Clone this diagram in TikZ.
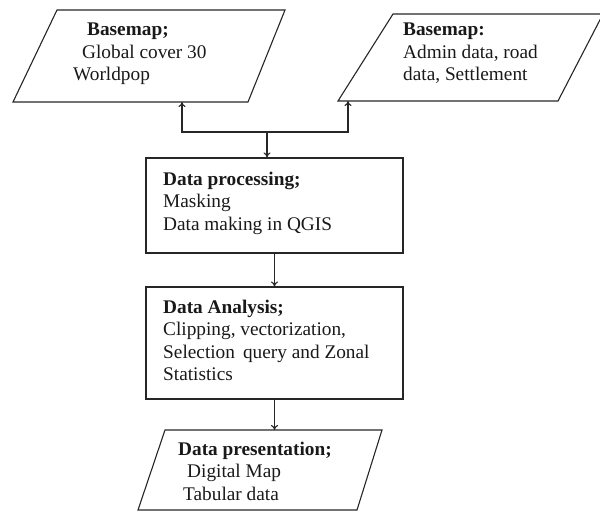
\documentclass[tikz,border=0pt]{standalone}
\usepackage{fontspec}
\setmainfont{Liberation Serif}
\usetikzlibrary{arrows.meta}
\begin{document}
\begin{tikzpicture}[x=1pt,y=-1pt,
  shapeline/.style={draw=black!85, line width=1.1pt, line join=miter},
  procbox/.style={shapeline, rectangle, inner sep=0pt},
  label/.style={anchor=north west, inner sep=0pt, align=left,
    font=\fontsize{19.3}{22.3}\selectfont, text=black!90},
  flow/.style={draw=black!85, line width=1.1pt, -{To[length=5pt,width=7pt]}}]
\useasboundingbox (0,0) rectangle (600,513);

% input parallelograms
\draw[shapeline] (57,10) -- (285,10) -- (248,102) -- (13,102) -- cycle;
\draw[shapeline] (393,14) -- (603,14) -- (558,101) -- (338,101) -- cycle;
% output parallelogram
\draw[shapeline] (165,430) -- (382,430) -- (357,510) -- (138,510) -- cycle;

% process boxes
\node[procbox, minimum width=257pt, minimum height=95pt] (proc) at (274.5,205.5) {};
\node[procbox, minimum width=257pt, minimum height=112pt] (anal) at (274.5,343) {};

% texts
\node[label] (base1) at (73,23) {\hspace*{14pt}\textbf{Basemap;}\\\hspace*{9pt}Global cover 30\\Worldpop};
\node[label] (base2) at (403,23) {\textbf{Basemap:}\\Admin data, road\\data, Settlement};
\node[label] (proctext) at (163,172) {\textbf{Data processing;}\\Masking\\Data making in QGIS};
\node[label] (analtext) at (163,300) {\textbf{Data Analysis;}\\Clipping, vectorization,\\Selection\, query and Zonal\\Statistics};
\node[label] (prestext) at (178,442) {\textbf{Data presentation;}\\\hspace*{9pt}Digital Map\\\hspace*{5pt}Tabular data};

% connector anchor points
\coordinate (split) at (267,132);
\coordinate (base1in) at (182,102);
\coordinate (base2in) at (348,101);
\coordinate (presin) at (274.5,430);

% connectors
\draw[flow] (split) -| (base1in);
\draw[flow] (split) -| (base2in);
\draw[flow] (split) -- (split |- proc.north);
\draw[flow] (proc.south) -- (anal.north);
\draw[flow] (anal.south) -- (presin);
\end{tikzpicture}
\end{document}
